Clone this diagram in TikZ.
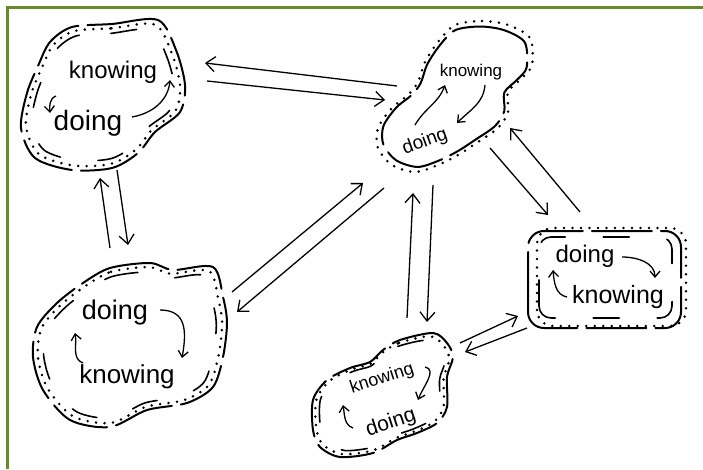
\documentclass[tikz,border=0pt]{standalone}
\usepackage{fontspec}
\setmainfont{Liberation Sans}
\usetikzlibrary{arrows.meta,calc}
\definecolor{framegreen}{RGB}{104,139,42}

\begin{document}
\begin{tikzpicture}[x=1pt,y=1pt,>={Straight Barb[length=9pt,width=15pt]},
outer line/.style={line width=2pt,line cap=round,dash pattern=on 60pt off 9pt},
dot line/.style={line width=2.8pt,line cap=round,dash pattern=on 0pt off 8.5pt},
inner line/.style={line width=1.6pt,line cap=round,dash pattern=on 26pt off 38pt},
word/.style={inner sep=0pt,font=\fontsize{#1}{#1}\selectfont},
loop arrow/.style={line width=1.3pt,-{Straight Barb[length=6pt,width=10pt]}},
link/.style={line width=1.3pt,->}]

\useasboundingbox (0,0) rectangle (703,469);
\draw[framegreen,line width=3pt] (7,0) -- (7,461) -- (703,461);

% upper left cloud
\foreach \s/\st in {1/outer line,0.94/dot line,0.87/inner line}
\draw[\st,scale around={\s:(103,373)}] plot[smooth cycle] coordinates
{(72,442) (112,445) (158,449) (176,419) (185,384) (180,357) (155,337) (138,316)
 (112,301) (72,299) (35,311) (21,341) (27,376) (38,403) (50,427)};
\node[word=24] (k1) at (113,397) {knowing};
\node[word=28] (d1) at (88,346) {doing};
\draw[loop arrow] ($(k1)+(-57,-24)$) to[out=200,in=95] ($(d1)+(-38,10)$);
\draw[loop arrow] ($(d1)+(44,6)$) to[out=10,in=-95] ($(k1)+(57,-8)$);

% upper right cloud
\foreach \s/\st in {1/dot line,0.93/outer line}
\draw[\st,scale around={\s:(455,369)}] plot[smooth cycle] coordinates
{(455,444) (482,448) (508,444) (530,431) (532,404) (522,391) (508,377) (508,357)
 (498,341) (478,327) (458,314) (438,304) (415,297) (392,304) (378,321) (378,341)
 (392,361) (408,374) (418,387) (425,407) (438,427)};
\node[word=17] (k2) at (471,397) {knowing};
\node[word=19,rotate=20] (d2) at (425,327) {doing};
\draw[loop arrow] ($(d2)+(-10,17)$) to[out=60,in=-110] ($(k2)+(-26,-13)$);
\draw[loop arrow] ($(k2)+(14,-13)$) to[out=-95,in=45] ($(d2)+(32,19)$);

% right box
\draw[outer line,rounded corners=16pt] (528,141) rectangle (681,238);
\draw[dot line,rounded corners=16pt] (537,143) rectangle (686,241);
\draw[inner line,rounded corners=12pt] (539,151) rectangle (672,232);
\node[word=24] (d3) at (585,213) {doing};
\node[word=25] (k3) at (618,172) {knowing};
\draw[loop arrow] ($(d3)+(37,-1)$) to[out=0,in=90] ($(k3)+(37,19)$);
\draw[loop arrow] ($(k3)+(-51,0)$) to[out=170,in=-85] ($(d3)+(-32,-14)$);

% lower left cloud
\foreach \s/\st in {1/outer line,0.95/dot line,0.89/inner line}
\draw[\st,scale around={\s:(130,124)}] plot[smooth cycle] coordinates
{(83,186) (110,201) (150,206) (173,199) (213,202) (223,172) (227,146) (223,112)
 (213,82) (187,66) (147,59) (110,42) (70,49) (43,79) (33,112) (37,142) (57,166)};
\node[word=27] (d4) at (115,156) {doing};
\node[word=26] (k4) at (127,92) {knowing};
\draw[loop arrow] ($(d4)+(45,3)$) to[out=0,in=80,looseness=1.3] ($(k4)+(55,19)$);
\draw[loop arrow] ($(k4)+(-44,14)$) to[out=160,in=-80] ($(d4)+(-40,-20)$);

% lower middle cloud
\foreach \s/\st in {1/outer line,0.95/dot line,0.89/inner line}
\draw[\st,scale around={\s:(380,71)}] plot[smooth cycle] coordinates
{(383,119) (400,129) (433,136) (447,126) (453,112) (447,92) (447,62) (437,46)
 (417,36) (397,29) (373,16) (340,12) (320,22) (313,39) (313,69) (327,89)
 (350,101) (370,107)};
\node[word=18,rotate=18] (k5) at (382,90) {knowing};
\node[word=21,rotate=18] (d5) at (391,46) {doing};
\draw[loop arrow] ($(k5)+(43,12)$) to[out=-10,in=70] ($(d5)+(27,23)$);
\draw[loop arrow] ($(d5)+(-38,-5)$) to[out=160,in=-80] ($(k5)+(-39,-26)$);

% ends of the links between clouds
\coordinate (p1) at (397,383);  \coordinate (p2) at (205,406);
\coordinate (p3) at (207,388);  \coordinate (p4) at (385,369);
\coordinate (p5) at (110,221);  \coordinate (p6) at (100,291);
\coordinate (p7) at (117,299);  \coordinate (p8) at (128,224);
\coordinate (p9) at (232,177);  \coordinate (p10) at (363,286);
\coordinate (p11) at (384,281); \coordinate (p12) at (237,157);
\coordinate (p13) at (407,151); \coordinate (p14) at (413,276);
\coordinate (p15) at (433,284); \coordinate (p16) at (427,147);
\coordinate (p17) at (490,321); \coordinate (p18) at (548,254);
\coordinate (p19) at (580,257); \coordinate (p20) at (510,341);
\coordinate (p21) at (460,126); \coordinate (p22) at (518,153);
\coordinate (p23) at (527,141); \coordinate (p24) at (465,117);

\path[link]
(p1) edge (p2)
(p3) edge (p4)
(p5) edge (p6)
(p7) edge (p8)
(p9) edge (p10)
(p11) edge (p12)
(p13) edge (p14)
(p15) edge (p16)
(p17) edge (p18)
(p19) edge (p20)
(p21) edge (p22)
(p23) edge (p24);
\end{tikzpicture}
\end{document}
